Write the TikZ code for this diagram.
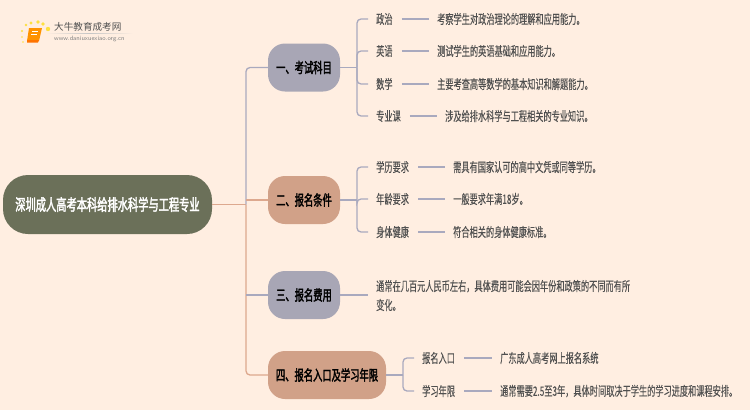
\documentclass[tikz,border=0pt]{standalone}
\usepackage{fontspec}
\newfontfamily\cjk[FakeStretch=0.63,FakeBold=0.1]{Noto Sans CJK SC}
\newfontfamily\cjkb[FakeStretch=0.64,FakeBold=2]{Noto Sans CJK SC}
\newfontfamily\cjklogo{Noto Sans CJK SC}
\definecolor{pagebg}{HTML}{FFEEE1}
\definecolor{rootfill}{HTML}{6B7059}
\definecolor{bluefill}{HTML}{A8A6B5}
\definecolor{tanfill}{HTML}{D1A188}
\definecolor{blueline}{HTML}{A9A9BE}
\definecolor{tanline}{HTML}{DDA88E}
\definecolor{txt}{HTML}{505050}
\tikzset{
  rootbox/.style={fill=rootfill,text=white,rounded corners=25pt,minimum width=209pt,minimum height=59pt,font=\cjkb\fontsize{16}{18}\selectfont,inner sep=0pt},
  topicbox/.style={rounded corners=17pt,minimum width=72pt,minimum height=48pt,font=\cjkb\fontsize{14.5}{16}\selectfont,inner sep=0pt,text=black},
  itembox/.style={font=\cjk\fontsize{13}{19}\selectfont,text=txt,inner sep=0pt,anchor=west,align=left},
  bline/.style={draw=blueline,line width=1.3pt,rounded corners=4pt},
  tline/.style={draw=tanline,line width=1.3pt,rounded corners=4pt}
}
\begin{document}
\begin{tikzpicture}[x=1pt,y=-1pt]
  \useasboundingbox[fill=pagebg] (0,0) rectangle (750,410);
  % logo
  \foreach \px/\py/\pr in {22/31/1.1, 26/25/1.4, 31/23/1.7, 38/22/1.8, 43/24/1.9, 48/29/2.2, 22/37/.9, 23/42/.8}
    \fill[yellow!75!orange!75] (\px,\py) circle (\pr);
  \fill[orange!85!yellow] (29,28) -- (42,28) -- (39,41) -- (27,41) -- cycle;
  \fill[orange!90!red] (27,40) -- (39,40) -- (38,42.5) -- (27,42.5) -- cycle;
  \draw[white,line width=.5pt] (32,31) -- (38,31) (31,34) -- (37,34);
  \node[inner sep=0pt,anchor=west,font=\cjklogo\fontsize{9.6}{12}\selectfont,text=txt] (logoname) at (54,27) {大牛教育成考网};
  \node[inner sep=0pt,anchor=west,font=\sffamily\fontsize{6.3}{7}\selectfont,text=gray] (logourl) at (54,38.5) {www.daniuxuexiao.org.cn};
  \shade[left color=pagebg,right color=pagebg,middle color=gray!45] (46,33) rectangle (133,33.6);
  % main nodes
  \node[rootbox] (root) at (107.5,204.5) {深圳成人高考本科给排水科学与工程专业};
  \node[topicbox,fill=bluefill] (exam) at (304,67.5) {一、考试科目};
  \node[topicbox,fill=tanfill] (cond) at (304,200) {二、报名条件};
  \node[topicbox,fill=bluefill] (fee) at (304,295) {三、报名费用};
  \node[topicbox,fill=tanfill,minimum width=118pt] (entry) at (327,375) {四、报名入口及学习年限};
  % second level
  \node[itembox] (zz) at (376,19) {政治};
  \node[itembox] (yy) at (376,51) {英语};
  \node[itembox] (sx) at (376,84) {数学};
  \node[itembox] (zy) at (376,116) {专业课};
  \node[itembox] (zzt) at (437,19) {考察学生对政治理论的理解和应用能力。};
  \node[itembox] (yyt) at (437,51) {测试学生的英语基础和应用能力。};
  \node[itembox] (sxt) at (437,84) {主要考查高等数学的基本知识和解题能力。};
  \node[itembox] (zyt) at (445,116) {涉及给排水科学与工程相关的专业知识。};
  \node[itembox] (xl) at (376,167) {学历要求};
  \node[itembox] (nl) at (376,199) {年龄要求};
  \node[itembox] (st) at (376,232) {身体健康};
  \node[itembox] (xlt) at (453,167) {需具有国家认可的高中文凭或同等学历。};
  \node[itembox] (nlt) at (453,199) {一般要求年满18岁。};
  \node[itembox] (stt) at (453,232) {符合相关的身体健康标准。};
  \node[itembox] (feet) at (376,295.5) {通常在几百元人民币左右，具体费用可能会因年份和政策的不同而有所\\变化。};
  \node[itembox] (rk) at (422,358) {报名入口};
  \node[itembox] (nx) at (422,391) {学习年限};
  \node[itembox] (rkt) at (500,358) {广东成人高考网上报名系统};
  \node[itembox] (nxt) at (500,391) {通常需要2.5至3年，具体时间取决于学生的学习进度和课程安排。};
  % connectors
  \coordinate (trunk) at (246,204.5);
  \draw[tline] (root.east) -- (trunk);
  \draw[bline] (trunk) |- (exam.west);
  \draw[tline] (trunk |- cond.west) -- (cond.west);
  \draw[tline] (trunk) |- (entry.west);
  \draw[bline] (trunk |- fee.west) -- (fee.west);
  \coordinate (examfork) at (357,67.5);
  \draw[bline] (exam.east) -- (examfork);
  \foreach \kid in {zz,yy,sx,zy}
    \draw[bline] (examfork) |- ([xshift=-8pt]\kid.west);
  \coordinate (condfork) at (357,200);
  \draw[bline] (cond.east) -- (condfork);
  \foreach \kid in {xl,nl,st}
    \draw[bline] (condfork) |- ([xshift=-8pt]\kid.west);
  \draw[bline] (fee.east) -- ([xshift=-8pt]feet.west |- fee.east);
  \coordinate (entryfork) at (403,375);
  \draw[bline] (entry.east) -- (entryfork);
  \foreach \kid in {rk,nx}
    \draw[bline] (entryfork) |- ([xshift=-8pt]\kid.west);
  % leader lines
  \foreach \kid/\leaf in {zz/zzt,yy/yyt,sx/sxt,zy/zyt,xl/xlt,nl/nlt,st/stt,rk/rkt,nx/nxt}
    \draw[bline] ([xshift=9pt]\kid.east) -- ([xshift=-8pt]\leaf.west);
\end{tikzpicture}
\end{document}
